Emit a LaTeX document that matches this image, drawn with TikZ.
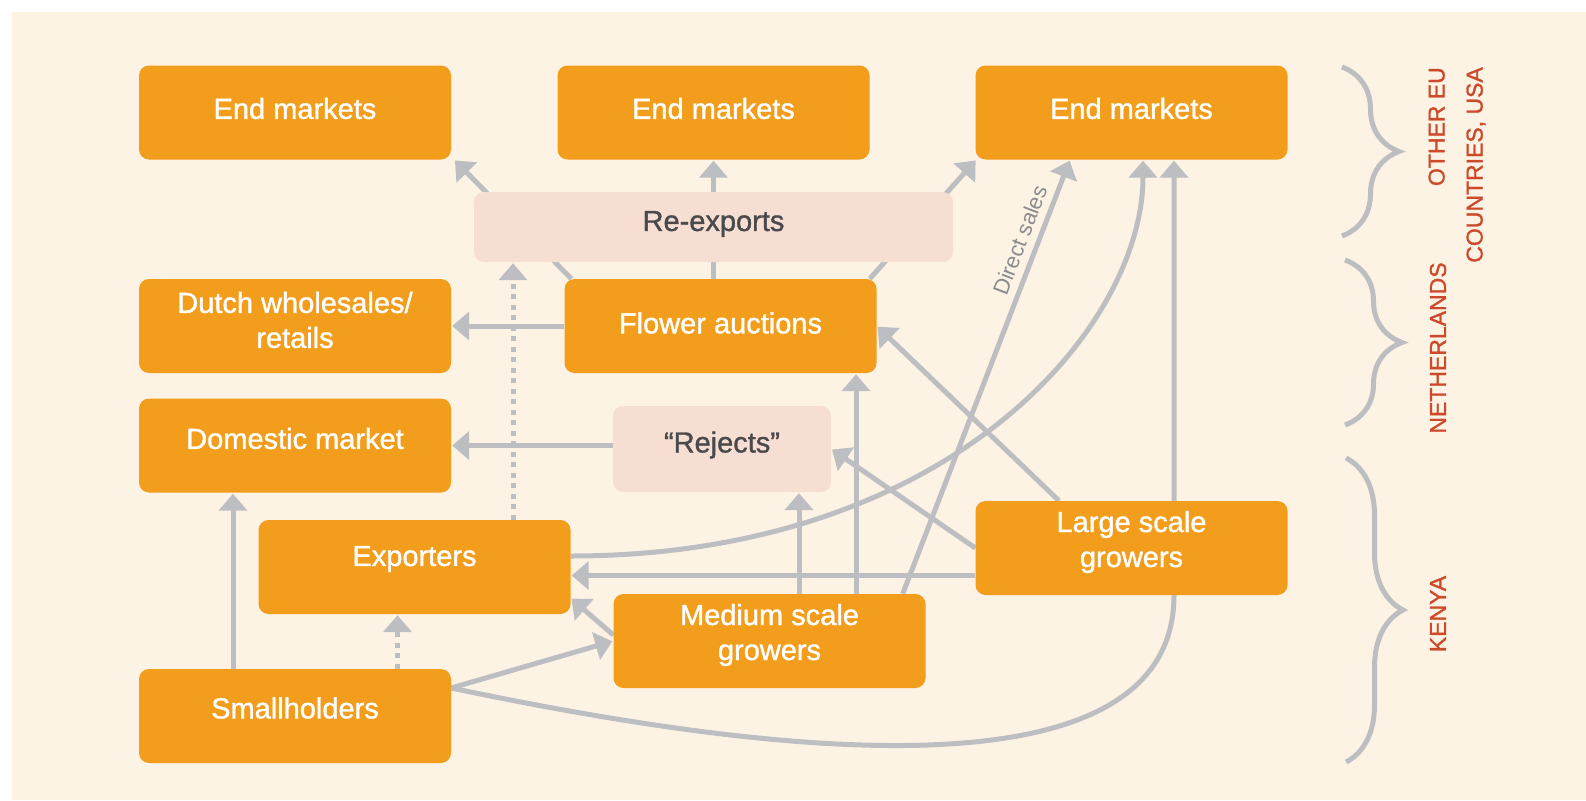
\documentclass[tikz,border=0pt]{standalone}
\usepackage{fontspec}
\setmainfont{Liberation Sans}
\newfontfamily\medfont[FakeBold=1.2]{Liberation Sans}
\usetikzlibrary{arrows.meta,decorations.pathreplacing,calc}
\definecolor{bgc}{HTML}{FDF3E4}
\definecolor{orng}{HTML}{F39D1D}
\definecolor{pinkc}{HTML}{F6DED2}
\definecolor{linec}{HTML}{BCBEC1}
\definecolor{darktxt}{HTML}{4A4A4C}
\definecolor{redtxt}{HTML}{CC4A2A}
\definecolor{dstc}{HTML}{8C8C8E}
\pgfdeclarelayer{bottom}
\pgfdeclarelayer{background}
\pgfsetlayers{bottom,background,main}
\begin{document}
\begin{tikzpicture}[x=1pt,y=-1pt,
  box/.style={fill=orng, rounded corners=10pt, minimum width=312pt, minimum height=94pt, inner sep=0pt},
  pbox/.style={fill=pinkc, rounded corners=10pt, inner sep=0pt},
  btxt/.style={text=white, font=\medfont\fontsize{29}{35}\selectfont, align=center, inner sep=0pt},
  ptxt/.style={text=darktxt, font=\medfont\fontsize{29}{35}\selectfont, inner sep=0pt},
  conn/.style={draw=linec, line width=5pt, -{Triangle[width=28pt,length=17pt]}, shorten >=1pt},
  dotc/.style={conn, dash pattern=on 5pt off 5.5pt},
  brc/.style={draw=linec, line width=5pt, decorate, decoration={brace, amplitude=57pt}},
  sidelbl/.style={text=redtxt, font=\medfont\fontsize{23}{38}\selectfont, inner sep=0pt, rotate=90},
  dstxt/.style={text=dstc, font=\fontsize{22}{26}\selectfont}
]
\useasboundingbox (0,0) rectangle (1586,800);
\begin{pgfonlayer}{bottom}
\fill[white] (0,0) rectangle (1586,800);
\fill[bgc] (12,12) rectangle (1586,800);
\end{pgfonlayer}

% boxes
\node[box] (em1) at (295,112.5) {};
\node[box] (em2) at (713.5,112.5) {};
\node[box] (em3) at (1131.5,112.5) {};
\node[pbox, minimum width=479pt, minimum height=70pt] (reexp) at (713.5,227) {};
\node[box] (dutch) at (295,326) {};
\node[box] (flower) at (720.5,326) {};
\node[box] (domestic) at (295,445.5) {};
\node[pbox, minimum width=218pt, minimum height=86pt] (rejects) at (722,449) {};
\node[box] (exporters) at (414.5,567) {};
\node[box] (medium) at (769.5,641) {};
\node[box] (large) at (1131.5,548) {};
\node[box] (small) at (295,716) {};

% box texts
\node[btxt] (em1t) at ([yshift=4pt]em1.center) {End markets};
\node[btxt] (em2t) at ([yshift=4pt]em2.center) {End markets};
\node[btxt] (em3t) at ([yshift=4pt]em3.center) {End markets};
\node[ptxt] (reexpt) at ([yshift=3pt]reexp.center) {Re-exports};
\node[btxt] (dutcht) at ([yshift=6pt]dutch.center) {Dutch wholesales/\\retails};
\node[btxt] (flowert) at ([yshift=3pt]flower.center) {Flower auctions};
\node[btxt] (domestict) at ([yshift=7pt]domestic.center) {Domestic market};
\node[ptxt] (rejectst) at ([yshift=4pt]rejects.center) {“Rejects”};
\node[btxt] (exporterst) at ([yshift=8pt]exporters.center) {Exporters};
\node[btxt] (mediumt) at ([yshift=6pt]medium.center) {Medium scale\\growers};
\node[btxt] (larget) at ([yshift=6pt]large.center) {Large scale\\growers};
\node[btxt] (smallt) at ([yshift=8pt]small.center) {Smallholders};

% side labels
\node[sidelbl, anchor=east, align=right] (lbleu) at (1457,67) {OTHER EU\\COUNTRIES, USA};
\node[sidelbl] (lblnl) at (1438,348) {NETHERLANDS};
\node[sidelbl] (lblke) at (1438,614) {KENYA};

% connectors
\begin{pgfonlayer}{background}
\draw[conn] ([xshift=7pt]flower.north west) -- ([xshift=3pt]em1.south east);
\draw[conn] (flower.north -| em2.south) -- (em2.south);
\draw[conn] ([xshift=-7pt]flower.north east) -- ([xshift=1pt]em3.south west);
\draw[conn] (flower.west) -- (dutch.east);
\draw[conn] (domestic.east -| rejects.west) -- (domestic.east);
\draw[dotc] ([xshift=98.5pt]exporters.north) -- ([xshift=98.5pt]exporters.north |- reexp.south);
\draw[conn] ([xshift=-62pt]small.north) -- ([xshift=-62pt]small.north |- domestic.south);
\draw[dotc] ([xshift=-17pt]exporters.south |- small.north) -- ([xshift=-17pt]exporters.south);
\coordinate (sP) at ([yshift=28pt]small.east);
\draw[conn] (sP) -- (medium.west);
\draw[conn] ([yshift=6pt]medium.west) -- ([yshift=-31pt]exporters.east);
\coordinate (lx) at ([yshift=-8.5pt]exporters.east);
\draw[conn] (large.west |- lx) -- (lx);
\draw[conn] ([yshift=11pt]exporters.east) .. controls +(379,0) and +(0,168) .. ([xshift=11.5pt]em3.south);
\draw[conn] (sP) .. controls +(249,52) and +(0,225) .. ([xshift=42.5pt]large.south) -- ([xshift=42.5pt]em3.south);
\draw[conn] ([xshift=29.5pt]medium.north) -- ([xshift=29.5pt]medium.north |- rejects.south);
\draw[conn] ([xshift=86.5pt]medium.north) -- ([xshift=86.5pt]medium.north |- flower.south);
\draw[conn] (large.west) -- (rejects.east);
\draw[conn] ([xshift=-72.5pt]large.north) -- (flower.east);
\draw[conn] ([xshift=-23pt]medium.north east) -- node[pos=0.8, sloped, above=4pt, dstxt] (dslbl) {Direct sales} ([xshift=-61.5pt]em3.south);
\end{pgfonlayer}

% braces
\draw[brc] (1342,67) -- (1342,236);
\draw[brc] (1345,260) -- (1345,425);
\draw[brc] (1346,458) -- (1346,762);
\end{tikzpicture}
\end{document}
